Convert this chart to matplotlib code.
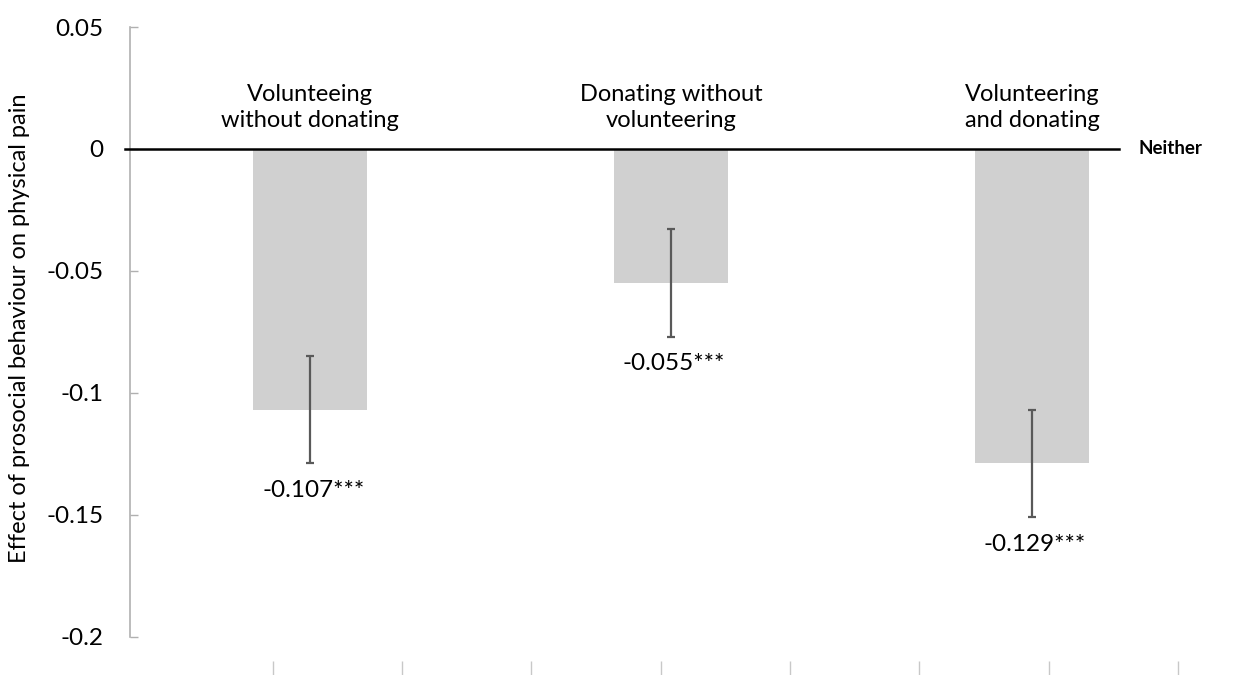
import numpy as np
import matplotlib
matplotlib.use("Agg")
import matplotlib.pyplot as plt

# data
categories = ["Volunteeing\nwithout donating", "Donating without\nvolunteering", "Volunteering\nand donating"]
effects = [-0.107, -0.055, -0.129]
errors = [0.022, 0.022, 0.022]
value_labels = ["-0.107***", "-0.055***", "-0.129***"]
yticks = [0.05, 0, -0.05, -0.1, -0.15, -0.2]
ytick_labels = ["0.05", "0", "-0.05", "-0.1", "-0.15", "-0.2"]

plt.rcParams['font.family'] = ['Lato', 'DejaVu Sans']

fig = plt.figure(figsize=(12.33, 6.75), dpi=100)
ax = fig.add_axes([130 / 1233, 14 / 675, (1180 - 130) / 1233, (661 - 27) / 675])

x = np.arange(len(categories))
ax.bar(x, effects, width=0.316, color="#d0d0d0", zorder=1)
ax.errorbar(x, effects, yerr=errors, fmt="none", ecolor="#595959",
            elinewidth=1.6, capsize=3, capthick=1.6, zorder=2)

# zero line ("Neither" is the reference group)
ax.plot([-0.515, 2.24], [0, 0], color="black", lw=1.8, clip_on=False, zorder=3)
ax.text(2.294, 0, "Neither", fontsize=13.5, fontweight="bold", va="center", ha="left")

for xi, lab in zip(x, categories):
    ax.text(xi, 0.0072, lab, ha="center", va="bottom", fontsize=17, linespacing=1.3)

for xi, v, e, lab in zip(x, effects, errors, value_labels):
    ax.annotate(lab, (xi, v - e), xytext=(2, -12), textcoords="offset points",
                ha="center", va="top", fontsize=17.5)

ax.set_xlim(-0.5, 2.41)
ax.set_ylim(-0.21, 0.05)
ax.set_yticks(yticks)
ax.set_yticklabels(ytick_labels, fontsize=17.5)

# decorative bottom ticks from the source figure
ax.set_xticks(-0.105 + 0.3585 * np.arange(8))
ax.set_xticklabels([])
ax.tick_params(axis="x", direction="out", length=11, color="#c8c8c8", width=1)
ax.tick_params(axis="y", direction="in", length=6, color="#b0b0b0", width=1, pad=19)

for s in ["top", "right", "bottom"]:
    ax.spines[s].set_visible(False)
ax.spines["left"].set_color("#b0b0b0")
ax.spines["left"].set_linewidth(1.2)
ax.spines["left"].set_bounds(-0.2, 0.05)

fig.text(20 / 1233, 0.513, "Effect of prosocial behaviour on physical pain",
         rotation=90, ha="center", va="center", fontsize=17)

fig.savefig("out.png", dpi=100)
